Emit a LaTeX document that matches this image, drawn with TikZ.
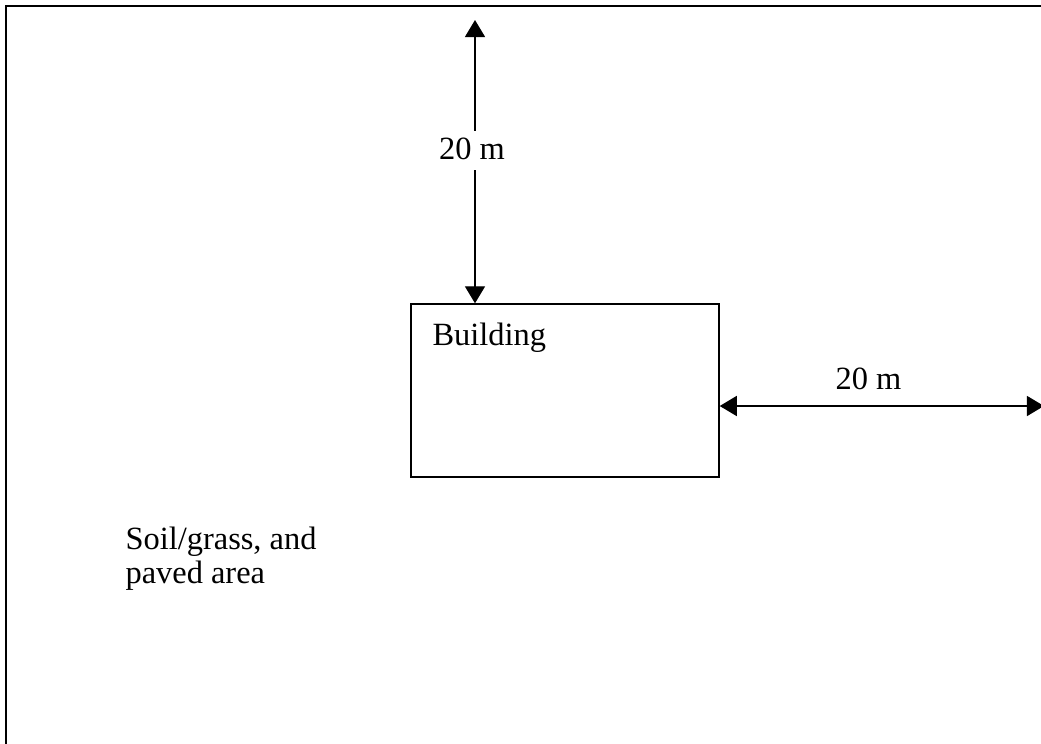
\documentclass[tikz,border=0pt]{standalone}
\usepackage{fontspec}
\setmainfont{Liberation Serif}
\usetikzlibrary{arrows.meta}
\usetikzlibrary{positioning}

\begin{document}
\begin{tikzpicture}[x=0.37pt, y=-0.37pt, font=\fontsize{12}{13.8}\selectfont]
  \tikzstyle{bldg}=[rectangle, draw, line width=0.5pt, minimum width=114pt, minimum height=64pt, inner sep=0pt]
  \tikzstyle{txt}=[inner sep=0pt, anchor=base west]
  \tikzstyle{dim}=[line width=0.5pt, {Triangle[length=6.3pt,width=7.4pt]}-{Triangle[length=6.3pt,width=7.4pt]}]
  \useasboundingbox (0,0) rectangle (1041,744);
  \draw[line width=0.7pt] (6,744) -- (6,6) -- (1041,6);
  \node [bldg] at (565,390.5) (bldg) {};
  \node [txt] at (432,345) (bname) {Building};
  \coordinate (top) at (475,20);
  \coordinate (east) at (1044,406);
  \draw[dim] (top) -- (top |- bldg.north);
  \draw[dim] (bldg.east |- east) -- (east);
  \node [fill=white, text height=7.5pt, text depth=1pt, inner sep=3pt] at (472,150.5) (dnorth) {20 m};
  \node [txt] at (835,389) (deast) {20 m};
  \node [txt] at (125,549) (soil) {Soil/grass, and};
  \node [txt] at (125,583) (paved) {paved area};
\end{tikzpicture}
\end{document}
